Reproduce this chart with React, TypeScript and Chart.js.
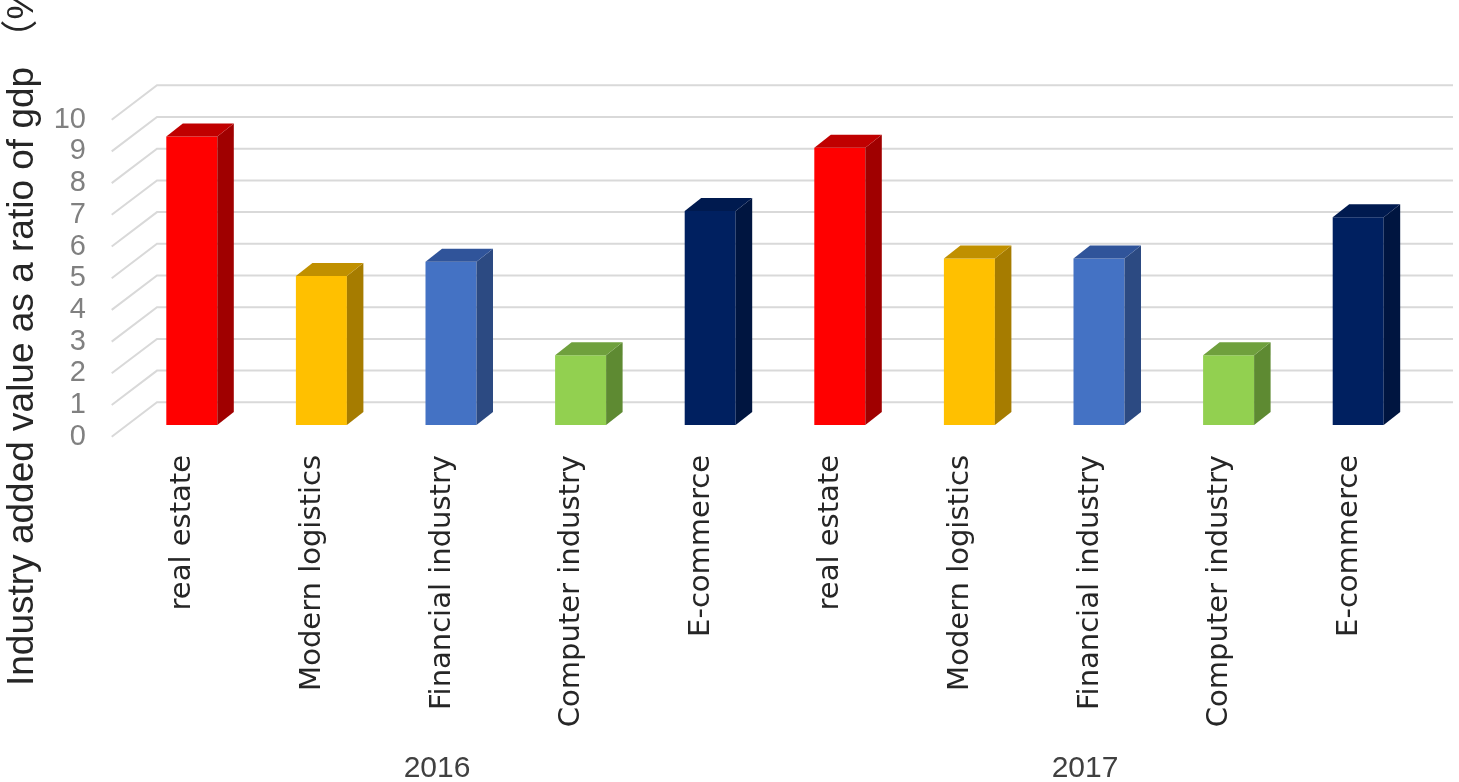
import React, { useEffect, useRef } from 'react';
import { Chart, registerables } from 'chart.js';

Chart.register(...registerables);

// ---------- data ----------
const years = ['2016', '2017'];
const industries = ['real estate', 'Modern logistics', 'Financial industry', 'Computer industry', 'E-commerce'];
const values2016 = [9.1, 4.7, 5.15, 2.2, 6.75];
const values2017 = [8.75, 5.25, 5.25, 2.2, 6.55];
const yMin = 0;
const yMax = 10;
const yStep = 1;
const yTitle = 'Industry added value as a ratio of gdp （%）';

// ---------- styles ----------
const frontColors = ['#FF0000', '#FFC000', '#4472C4', '#92D050', '#002060'];
const topColors = ['#C00000', '#C09000', '#30549A', '#6FA03D', '#001A4F'];
const sideColors = ['#A00000', '#A67C00', '#2C4A82', '#5E8A32', '#001540'];

const BAR_DEPTH = { x: 16.5, y: -13 };
const FLOOR_FRONT = { x: -15.3, y: 11.7 };
const BACK_WALL = { x: 30, y: -22.7 };
const GRID_COLOR = '#d9d9d9';

const labels = years.flatMap(() => industries);
const values = [...values2016, ...values2017];
const yearAxisLabels = labels.map((_, i) => {
  const n = industries.length;
  const mid = Math.floor(n / 2);
  return i % n === mid ? years[Math.floor(i / n)] : '';
});

const wallPlugin = {
  id: 'wall3d',
  beforeDatasetsDraw(chart: any) {
    const { ctx, chartArea } = chart;
    const y = chart.scales.y;
    ctx.save();
    ctx.strokeStyle = GRID_COLOR;
    ctx.lineWidth = 2;
    y.ticks.forEach((t: any) => {
      const py = y.getPixelForValue(t.value);
      ctx.beginPath();
      ctx.moveTo(chartArea.left + FLOOR_FRONT.x, py + FLOOR_FRONT.y);
      ctx.lineTo(chartArea.left + BACK_WALL.x, py + BACK_WALL.y);
      ctx.lineTo(chartArea.right + BACK_WALL.x, py + BACK_WALL.y);
      ctx.stroke();
    });
    ctx.restore();
  },
};

const barPlugin = {
  id: 'bar3d',
  afterDatasetsDraw(chart: any) {
    const { ctx } = chart;
    const meta = chart.getDatasetMeta(0);
    ctx.save();
    meta.data.forEach((bar: any, i: number) => {
      const { x, y, base, width } = bar.getProps(['x', 'y', 'base', 'width'], true);
      const l = x - width / 2;
      const r = x + width / 2;
      const ci = i % industries.length;
      // side face
      ctx.fillStyle = sideColors[ci];
      ctx.beginPath();
      ctx.moveTo(r, y);
      ctx.lineTo(r + BAR_DEPTH.x, y + BAR_DEPTH.y);
      ctx.lineTo(r + BAR_DEPTH.x, base + BAR_DEPTH.y);
      ctx.lineTo(r, base);
      ctx.closePath();
      ctx.fill();
      // top face
      ctx.fillStyle = topColors[ci];
      ctx.beginPath();
      ctx.moveTo(l, y);
      ctx.lineTo(l + BAR_DEPTH.x, y + BAR_DEPTH.y);
      ctx.lineTo(r + BAR_DEPTH.x, y + BAR_DEPTH.y);
      ctx.lineTo(r, y);
      ctx.closePath();
      ctx.fill();
    });
    ctx.restore();
  },
};

const titlePlugin = {
  id: 'yTitle3d',
  afterDraw(chart: any) {
    const { ctx } = chart;
    ctx.save();
    ctx.translate(33, 686);
    ctx.rotate(-Math.PI / 2);
    ctx.font = '37px "Liberation Sans", "Noto Sans CJK SC", sans-serif';
    ctx.fillStyle = '#262626';
    ctx.textAlign = 'left';
    ctx.textBaseline = 'alphabetic';
    ctx.fillText(yTitle, 0, 0);
    ctx.restore();
  },
};

export default function App() {
  const ref = useRef<HTMLCanvasElement>(null);
  useEffect(() => {
    const chart = new Chart(ref.current as HTMLCanvasElement, {
      type: 'bar',
      data: {
        labels,
        datasets: [
          {
            data: values,
            backgroundColor: labels.map((_, i) => frontColors[i % industries.length]),
            borderWidth: 0,
            categoryPercentage: 1,
            barPercentage: 0.3935,
          },
        ],
      },
      options: {
        responsive: false,
        animation: false,
        devicePixelRatio: 1,
        layout: { padding: { left: 0, top: 108, right: 36, bottom: 0 } },
        plugins: { legend: { display: false }, tooltip: { enabled: false } },
        scales: {
          x: {
            position: 'bottom',
            grid: { display: false, drawTicks: false },
            border: { display: false },
            ticks: {
              autoSkip: false,
              minRotation: 90,
              maxRotation: 90,
              padding: 30,
              labelOffset: -9,
              color: '#262626',
              font: { family: '"DejaVu Sans"', size: 29 },
            },
            afterFit(scale: any) {
              scale.height = 310;
            },
          },
          x2: {
            type: 'category',
            position: 'bottom',
            labels: yearAxisLabels,
            offset: true,
            grid: { display: false, drawTicks: false },
            border: { display: false },
            ticks: {
              autoSkip: false,
              maxRotation: 0,
              minRotation: 0,
              padding: 16,
              labelOffset: -14,
              color: '#404040',
              font: { family: '"Liberation Sans"', size: 30 },
            },
            afterFit(scale: any) {
              scale.height = 47;
            },
          },
          y: {
            min: yMin,
            max: yMax,
            grid: { display: false, drawTicks: false },
            border: { display: false },
            ticks: {
              stepSize: yStep,
              autoSkip: false,
              padding: 41,
              labelOffset: 11.7,
              color: '#808080',
              font: { family: '"Liberation Sans"', size: 29 },
            },
            afterFit(scale: any) {
              scale.width = 127;
            },
          },
        },
      },
      plugins: [wallPlugin, barPlugin, titlePlugin],
    } as any);
    return () => chart.destroy();
  }, []);
  return (
    <div style={{ position: 'absolute', left: 0, top: 0, width: 1459, height: 782, background: '#fff' }}>
      <canvas ref={ref} width={1459} height={782} style={{ display: 'block', width: 1459, height: 782 }} />
    </div>
  );
}
